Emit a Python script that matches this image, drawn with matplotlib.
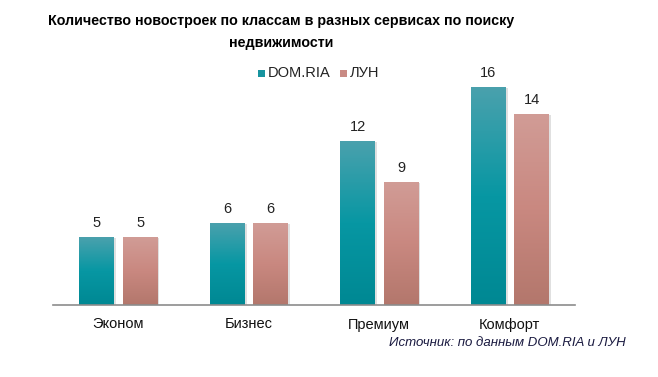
import numpy as np
import matplotlib
matplotlib.use("Agg")
import matplotlib.pyplot as plt
from matplotlib.colors import LinearSegmentedColormap
from matplotlib.patches import Rectangle

categories = ["Эконом", "Бизнес", "Премиум", "Комфорт"]
series_names = ["DOM.RIA", "ЛУН"]
dom_ria = [5, 6, 12, 16]
lun = [5, 6, 9, 14]
title_lines = ["Количество новостроек по классам в разных сервисах по поиску", "недвижимости"]
source = "Источник: по данным DOM.RIA и ЛУН"

plt.rcParams['font.family'] = ['Liberation Sans', 'DejaVu Sans']

fig = plt.figure(figsize=(6.58, 3.77), dpi=100)
ax = fig.add_axes([53/658, (377-305)/377, 522/658, 244.8/377])
ax.set_xlim(-0.5, len(categories) - 0.5)
ax.set_ylim(0, 18)

teal = LinearSegmentedColormap.from_list("teal", ["#008893", "#0797a3", "#4aa1ad"])
pink = LinearSegmentedColormap.from_list("pink", ["#b3776c", "#c98880", "#d19c96"])

width = 0.268
offsets = [-0.163, 0.167]
grad = np.linspace(0, 1, 256).reshape(-1, 1)

for vals, off, cmap, col in [(dom_ria, offsets[0], teal, "#17949f"), (lun, offsets[1], pink, "#c98a84")]:
    x = np.arange(len(categories)) + off
    bars = ax.bar(x, vals, width=width, color="none", edgecolor="none", zorder=3)
    for b in bars:
        x0, y0 = b.get_x(), b.get_y()
        w, h = b.get_width(), b.get_height()
        sh = Rectangle((x0 + 0.012, y0), w, h - 0.05, facecolor="#000000", alpha=0.12,
                       edgecolor="none", zorder=2)
        ax.add_patch(sh)
        ax.imshow(grad, cmap=cmap, origin="lower", aspect="auto",
                  extent=[x0, x0 + w, y0, y0 + h], zorder=3)
        ax.text(x0 + w / 2, h + 0.55, f"{int(h)}", ha="center", va="bottom",
                fontsize=10.5, color="#222222", zorder=4)

ax.set_xlim(-0.5, len(categories) - 0.5)
ax.set_ylim(0, 18)

for s in ["top", "right", "left"]:
    ax.spines[s].set_visible(False)
ax.spines["bottom"].set_color("#8c8c8c")
ax.spines["bottom"].set_linewidth(1.2)
ax.spines["bottom"].set_zorder(5)
ax.set_yticks([])
ax.set_xticks(np.arange(len(categories)))
ax.set_xticklabels(categories, fontsize=10.5, color="#111111")
ax.tick_params(axis="x", length=0, pad=9)

for i, (line, yy) in enumerate(zip(title_lines, [21, 43])):
    fig.text(281/658, 1 - yy/377, line, ha="center", va="center", fontsize=10.3,
             fontweight="bold", color="#000000")

ly = 1 - 73/377
fig.patches.append(Rectangle((258/658, ly - 3.5/377), 7/658, 7/377, facecolor="#17949f",
                             edgecolor="none", transform=fig.transFigure, figure=fig))
fig.text(268/658, ly, series_names[0], ha="left", va="center", fontsize=10.5, color="#222222")
fig.patches.append(Rectangle((340/658, ly - 3.5/377), 7/658, 7/377, facecolor="#c98a84",
                             edgecolor="none", transform=fig.transFigure, figure=fig))
fig.text(350/658, ly, series_names[1], ha="left", va="center", fontsize=10.5, color="#222222")

fig.text(626/658, 1 - 343/377, source, ha="right", va="center", fontsize=9.5,
         style="italic", color="#1a1a40")

fig.savefig("out.png", dpi=100)
